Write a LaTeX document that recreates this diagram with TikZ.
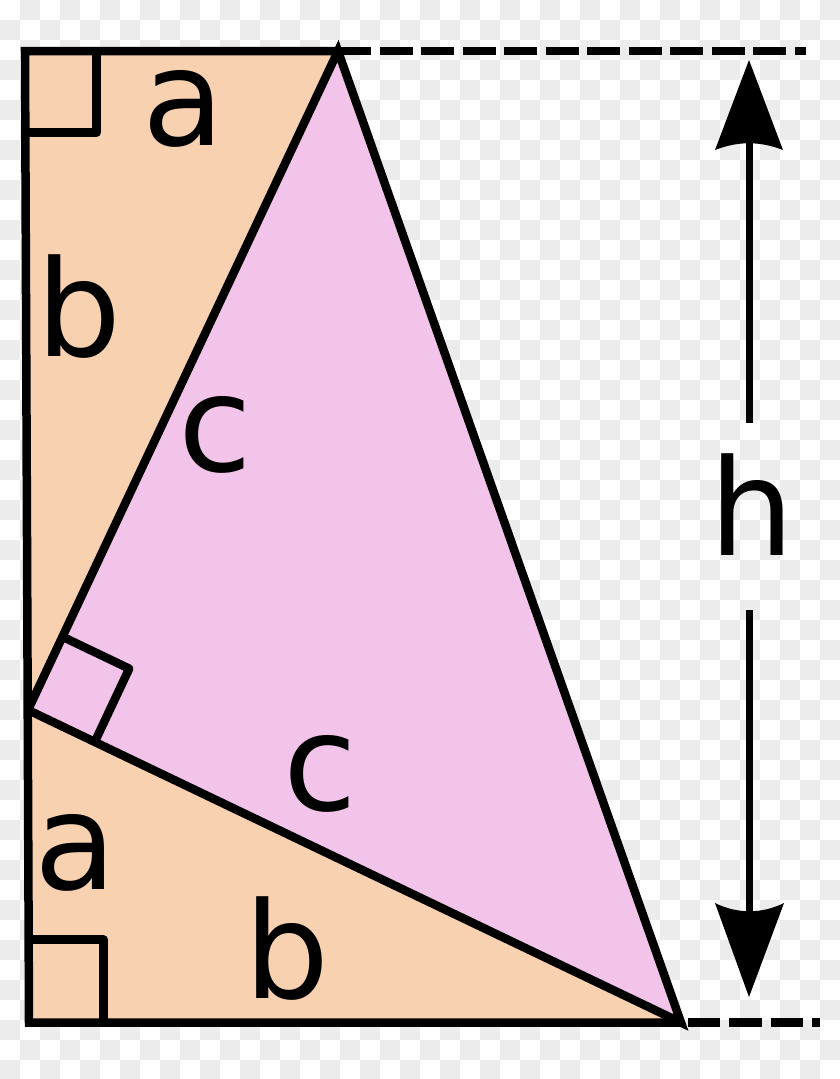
\documentclass[tikz,border=0pt]{standalone}
\usepackage{fontspec}
\setmainfont{DejaVu Sans}
\usetikzlibrary{calc}
\definecolor{peach}{HTML}{F8D1B0}
\definecolor{pinkf}{HTML}{F2C4EA}
\definecolor{checker}{HTML}{ECECEC}
\begin{document}
\begin{tikzpicture}[x=1pt,y=-1pt,
  edge/.style={line width=8.5pt, line join=miter, miter limit=10},
  rtmark/.style={line width=8.5pt, line join=round},
  dashline/.style={line width=8.5pt, dash pattern=on 33pt off 8.5pt},
  shaft/.style={line width=7pt},
  head/.style={fill=black},
  lbl/.style={inner sep=0pt, anchor=base, font=\fontsize{134}{134}\selectfont}]
\useasboundingbox (0,0) rectangle (840,1079);
% transparency checkerboard
\begin{scope}
\clip (0,0) rectangle (840,1079);
\fill[white] (0,0) rectangle (840,1079);
\foreach \j in {0,2,...,52} \foreach \i in {1,3,...,41}
  \fill[checker] (20*\i,20*\j) rectangle ++(20,20);
\foreach \j in {1,3,...,53} \foreach \i in {0,2,...,40}
  \fill[checker] (20*\i,20*\j) rectangle ++(20,20);
\end{scope}
% vertices
\coordinate (TL) at (25,51);
\coordinate (T) at (338,51);
\coordinate (M) at (28,710);
\coordinate (BL) at (29,1022.5);
\coordinate (BR) at (681,1022.5);
\coordinate (TE) at (806,51);
\coordinate (BS) at (687.5,1022.5);
\coordinate (BE) at (820,1022.5);
% fills
\fill[peach] (TL) -- (T) -- (M) -- cycle;
\fill[peach] (M) -- (BL) -- (BR) -- cycle;
\fill[pinkf] (T) -- (BR) -- (M) -- cycle;
% right angle marks
\draw[rtmark] (96.7,51) -- (96.7,132.5) -- (25.5,132.5);
\draw[rtmark] (28.7,939.5) -- (103.3,939.5) -- (103.3,1022.5);
\coordinate (MA) at ($(M)!81pt!(T)$);
\coordinate (MB) at ($(M)!74pt!(BR)$);
\draw[rtmark] (MA) -- ($(MA)+(MB)-(M)$) -- (MB);
% outlines
\draw[edge] (T) -- (TL) -- (BL) -- (BR);
\draw[edge] (M) -- (T) -- (BR) -- (M);
% dashed extension lines
\draw[dashline] (T) -- (TE);
\draw[dashline, dash pattern=on 32.5pt off 9pt] (BS) -- (BE);
% height arrow
\coordinate (AT) at (749,60);
\coordinate (AB) at (749,997);
\draw[shaft] (749,140) -- (749,423);
\draw[shaft] (749,610) -- (749,913);
\fill[head] (AT) -- (783,150) .. controls (760,141) and (738,141) .. (715,150) -- cycle;
\fill[head] (AB) -- (784,903) .. controls (762,914) and (737,914) .. (715,903) -- cycle;
% labels
\node[lbl] (la1) at (183.5,145) {a};
\node[lbl] (lb1) at (79,356) {b};
\node[lbl] (lc1) at (215,471) {c};
\node[lbl] (lc2) at (320,810) {c};
\node[lbl] (la2) at (76,889) {a};
\node[lbl] (lb2) at (287,998) {b};
\node[lbl] (lh) at (752,555) {h};
\end{tikzpicture}
\end{document}
